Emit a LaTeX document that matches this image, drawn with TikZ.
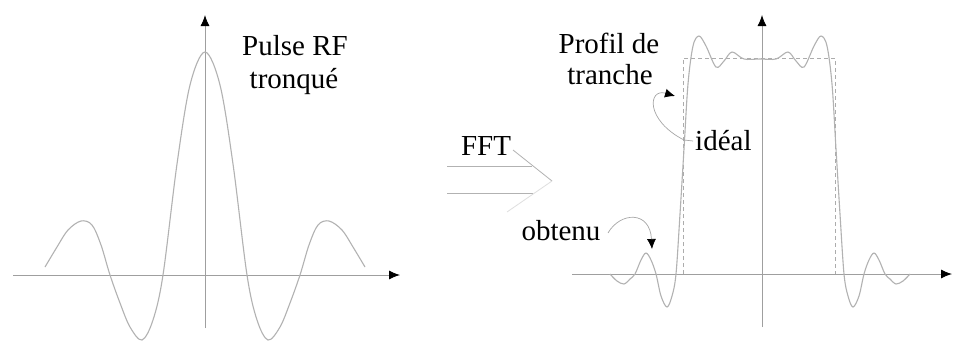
\documentclass[tikz,border=0pt]{standalone}
\usepackage{fontspec}
\setmainfont{Liberation Serif}
\usetikzlibrary{arrows.meta}
\begin{document}
\begin{tikzpicture}[x=1pt,y=-1pt,
  axis/.style={draw=gray!75,line width=0.9pt,-{Latex[length=11pt,width=9pt,color=black]}},
  curve/.style={draw=gray!60,line width=1.1pt,smooth,tension=0.55},
  idealbox/.style={draw=gray!65,line width=0.9pt,dash pattern=on 4pt off 3pt},
  note/.style={draw=gray!70,line width=0.7pt,-{Latex[length=10pt,width=9pt,color=black]}},
  fftline/.style={draw=gray!60,line width=0.8pt},
  lbl/.style={inner sep=0pt,anchor=base,font=\fontsize{29}{33}\selectfont}]
\useasboundingbox (0,0) rectangle (954,343);
\fill[white] (0,0) rectangle (954,343);

% ---------- left plot ----------
\coordinate (lxs) at (13,275);
\coordinate (lxe) at (400,275);
\coordinate (lys) at (205,328);
\coordinate (lye) at (205,15);
\draw[axis] (lxs) -- (lxe);
\draw[axis] (lys) -- (lye);
\draw[curve] plot coordinates {(45,267) (57,247) (68,230) (81,221) (92,225) (101,245) (110,275) (120,303) (130,327) (142,340) (153,320) (163,275) (177,164) (190,85) (205,52) (220,85) (233,164) (247,275) (257,320) (268,340) (280,327) (290,303) (300,275) (309,245) (318,225) (329,221) (342,230) (353,247) (365,267)};
\node[lbl] (pulse1) at (295,55) {Pulse RF};
\node[lbl] (pulse2) at (294,88) {tronqué};

% ---------- FFT arrow ----------
\node[lbl] (fft) at (486,155) {FFT};
\coordinate (fa1) at (447,166);
\coordinate (fa2) at (532,166);
\coordinate (fb1) at (447,193);
\coordinate (fb2) at (533,193);
\coordinate (fh1) at (513,150);
\coordinate (fh2) at (552,181);
\coordinate (fh3) at (507,212);
\draw[fftline] (fa1) -- (fa2);
\draw[fftline] (fb1) -- (fb2);
\draw[fftline] (fh1) -- (fh2);
\draw[fftline,draw=gray!25] (fh2) -- (fh3);

% ---------- right plot ----------
\coordinate (rxs) at (572,274);
\coordinate (rxe) at (952,274);
\coordinate (rys) at (762,327);
\coordinate (rye) at (762,15);
\draw[axis] (rxs) -- (rxe);
\draw[axis] (rys) -- (rye);
\coordinate (i1) at (683,274);
\coordinate (i2) at (683,58);
\coordinate (i3) at (835,58);
\coordinate (i4) at (835,274);
\draw[idealbox] (i1) -- (i2) -- (i3) -- (i4);
\draw[curve] plot coordinates {(610,274) (617,281) (624,284) (630,279) (635,274) (641,260) (646,253) (651,260) (656,274) (661,296) (667,307) (672,296) (676,274) (680,214) (684,149) (688,84) (693,46) (699,36) (706,46) (716,67) (724,61) (732,52) (744,59) (760,59) (776,59) (788,52) (796,61) (804,67) (814,46) (821,36) (827,46) (832,84) (836,149) (840,214) (844,274) (848,296) (853,307) (859,296) (864,274) (869,260) (874,253) (879,260) (885,274) (890,279) (896,284) (903,281) (910,274)};

\node[lbl] (profil1) at (609,53) {Profil de};
\node[lbl] (profil2) at (610,84) {tranche};
\node[lbl,anchor=base west] (ideal) at (695,150) {idéal};
\node[lbl] (obtenu) at (561,240) {obtenu};

% annotations
\coordinate (idealpt) at (684,140);
\coordinate (idealtip) at (675,96);
\coordinate (idealend) at (693,141);
\draw[draw=gray!70,line width=0.7pt] (idealend) -- (idealpt);
\draw[note] (idealpt) .. controls (645,120) and (648,88) .. (idealtip);
\coordinate (obtpt) at (608,233);
\coordinate (obttip) at (652,249);
\draw[note] (obtpt) .. controls (620,212) and (650,210) .. (obttip);
\end{tikzpicture}
\end{document}
